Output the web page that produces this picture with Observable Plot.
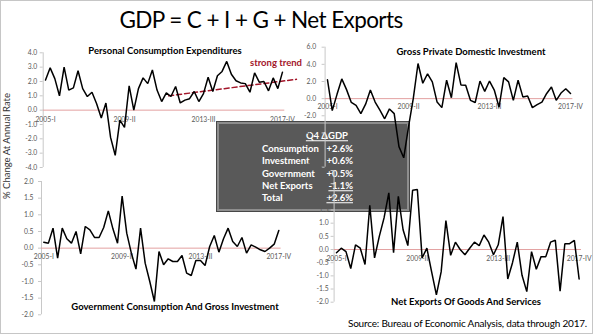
<!DOCTYPE html>
<html><head><meta charset="utf-8">
<script src="https://cdn.jsdelivr.net/npm/d3@7"></script>
<script src="https://cdn.jsdelivr.net/npm/@observablehq/plot@0.6"></script>
<style>
html,body{margin:0;padding:0;background:#fff;}
#wrap{position:relative;width:593px;height:334px;overflow:hidden;font-family:Lato,"Noto Sans",sans-serif;background:#fff;}
#frame{position:absolute;left:0;top:0;width:591px;height:332px;border:1px solid #c6c6c6;}
.layer{position:absolute;left:0;top:0;}
.lbl{position:absolute;white-space:nowrap;transform:translate(-50%,-50%);line-height:1;}
.ptitle{font-weight:bold;font-size:9.5px;color:#000;}
#box{position:absolute;left:217px;top:122px;width:192px;height:89px;box-sizing:border-box;background:#595959;border:2px solid #8e8e8e;outline:1px solid #474747;}
.bt{position:absolute;white-space:nowrap;color:#fff;font-weight:bold;font-size:9.5px;line-height:1;transform:translateY(-50%);}
</style></head>
<body>
<div id="wrap">
  <div id="frame"></div>
</div>
<script>
// ---- data ----
const years = [2005,2006,2007,2008,2009,2010,2011,2012,2013,2014,2015,2016,2017];
const qNames = ["I","II","III","IV"];
const quarters = [];
for (const y of years) for (const q of qNames) quarters.push(y + "-" + q);
const tickLabels = ["2005-I","2009-II","2013-III","2017-IV"];

const pce = [2.1,2.95,2.2,1.0,3.0,1.4,1.55,2.75,1.5,0.95,1.25,0.45,-0.55,0.5,-1.9,-3.15,-0.7,-1.2,1.7,0.0,1.5,2.25,1.85,2.8,1.4,0.6,1.2,0.95,1.65,0.5,0.7,0.8,1.3,0.6,1.15,2.3,1.3,2.4,2.7,3.4,2.5,2.05,1.9,1.85,1.25,2.6,1.95,2.0,1.35,2.25,1.5,2.65];
const gpdi = [2.2,-1.4,0.5,2.3,1.05,-0.45,-0.8,-1.75,-0.65,1.0,-0.4,-1.35,-2.35,-1.2,-1.75,-5.6,-6.9,-3.3,0,4.1,1.8,2.9,1.95,-0.4,-1.05,2.15,0.1,4.2,1.6,1.55,-0.2,-0.45,2.05,0.85,2.05,1.0,-1.0,2.45,1.95,-0.2,2.15,0.2,0.3,-1.05,-0.7,-0.4,0.6,1.35,-0.2,0.65,1.15,0.6];
const gov = [0.18,0.15,0.6,-0.3,0.6,0.28,0.15,0.5,-0.17,0.65,0.55,0.32,0.32,0.62,1.12,0.58,0.15,1.56,0.45,-0.15,-0.63,0.6,-0.45,-1.0,-1.6,-0.1,-0.5,-0.32,-0.4,-0.4,-0.22,-0.75,-0.82,-0.37,-0.37,-0.52,0.05,0.38,-0.12,0.28,0.6,0.2,0.05,0.32,-0.15,0.1,0.03,-0.05,-0.1,0.0,0.12,0.53];
const netExports = [-0.12,0.05,-0.08,-0.72,0.18,0.05,-0.57,1.68,-0.32,0.5,1.2,2.15,-0.12,2.02,0.75,0.15,2.25,2.28,-0.32,0.05,-0.85,-1.72,-0.85,1.1,-0.22,0.28,0,-0.2,0.05,0.28,0.15,0.55,0.28,-0.2,0.18,1.25,-1.12,-0.5,0.28,-0.98,-1.6,-0.08,-0.75,-0.27,-0.27,0.28,0.35,-1.58,0.22,0.22,0.35,-1.12];

const trendIndex = [26.5, 54];
const trendValue = [1.0, 2.15];

const pceTicks = [-4,-3,-2,-1,0,1,2,3,4];
const gpdiTicks = [-8,-4,-2,0,2,4,6];
const govTicks = [-2,-1.5,-1,-0.5,0,0.5,1,1.5,2];
const nxTicks = [-2,-1.5,-1,-0.5,0,0.5,1,1.5,2,2.5,3];

const boxHeader = "Q4 ΔGDP";
const boxLabels = ["Consumption","Investment","Government","Net Exports","Total"];
const boxValues = ["+2.6%","+0.6%","+0.5%","-1.1%","+2.6%"];

// ---- drawing ----
const W = 593, H = 334;
const wrap = document.getElementById("wrap");

function panel(o) {
  const data = o.series.map((v, i) => ({i, v}));
  const n = quarters.length;
  const chart = Plot.plot({
    width: W, height: H,
    marginLeft: o.left, marginRight: W - o.right, marginTop: o.top, marginBottom: H - o.bottom,
    x: {domain: [-0.5, n - 0.5], axis: null},
    y: {domain: o.yDomain, axis: null},
    style: {background: "transparent", fontFamily: "Lato, sans-serif", fontSize: "6.8px", overflow: "visible"},
    marks: [
      Plot.ruleX([-0.5], {stroke: "#c8c8c8"}),
      Plot.ruleY([0], {stroke: "#e3a1a1", strokeWidth: 1}),
      Plot.axisY(o.ticks, {anchor: "left", tickSize: 3, tickPadding: o.pad, tickFormat: d => d.toFixed(1), color: "#595959", stroke: "#c8c8c8", fontSize: 6.8, label: null}),
      Plot.text(tickLabels, {x: d => quarters.indexOf(d), y: () => 0, text: d => d, dy: o.labelDy, fontSize: 6.8, fill: "#595959"}),
      ...(o.extra || []),
      Plot.line(data, {x: "i", y: "v", stroke: "#000", strokeWidth: 1.5, strokeLinejoin: "miter"})
    ]
  });
  chart.classList.add("layer");
  chart.style.zIndex = o.z;
  wrap.appendChild(chart);
}

const trend = trendIndex.map((x, k) => ({x, y: trendValue[k]}));

panel({series: pce, yDomain: [-4, 4], ticks: pceTicks, left: 42.7, right: 284.3, top: 52.3, bottom: 167, pad: 3, labelDy: 9.3, z: 1,
  extra: [Plot.line(trend, {x: "x", y: "y", stroke: "#a3162a", strokeWidth: 1.5, strokeDasharray: "5,3"})]});
panel({series: gov, yDomain: [-2, 2], ticks: govTicks, left: 41, right: 280.6, top: 181, bottom: 314.3, pad: 5, labelDy: 9, z: 1});
panel({series: gpdi, yDomain: [-8, 6], ticks: gpdiTicks, left: 324.6, right: 572.4, top: 46.7, bottom: 166.7, pad: 6, labelDy: 7.7, z: 3});
panel({series: netExports, yDomain: [-2, 3], ticks: nxTicks, left: 333.6, right: 581, top: 170, bottom: 301.7, pad: 2.5, labelDy: 9.3, z: 3});

// box
const box = document.createElement("div");
box.id = "box"; box.style.zIndex = 2;
wrap.appendChild(box);
function bt(text, x, y, align, underline) {
  const d = document.createElement("div");
  d.className = "bt";
  d.textContent = text;
  if (align === "right") { d.style.right = (W - x) + "px"; } else { d.style.left = x + "px"; }
  d.style.top = y + "px";
  if (underline) d.style.textDecoration = "underline";
  d.style.zIndex = 2;
  wrap.appendChild(d);
}
bt(boxHeader, 348, 136, "right", true);
boxLabels.forEach((l, k) => {
  const y = 149 + k * 12.3;
  bt(l, 262, y, "left", false);
  bt(boxValues[k], 353, y, "right", k >= 3);
});

function lbl(text, x, y, cls, extraStyle) {
  const d = document.createElement("div");
  d.className = "lbl " + (cls || "");
  d.textContent = text;
  d.style.left = x + "px"; d.style.top = y + "px";
  d.style.zIndex = 5;
  Object.assign(d.style, extraStyle || {});
  wrap.appendChild(d);
  return d;
}
lbl("GDP = C + I + G + Net Exports", 261, 20, "", {fontSize: "22.5px", letterSpacing: "-0.6px", color: "#000"});
lbl("Personal Consumption Expenditures", 165, 51, "ptitle");
lbl("Gross Private Domestic Investment", 471, 52, "ptitle");
lbl("Government Consumption And Gross Investment", 175, 307, "ptitle");
lbl("Net Exports Of Goods And Services", 466, 302, "ptitle");
lbl("strong trend", 276, 63, "", {fontSize: "9.5px", fontWeight: "bold", color: "#a3162a"});
lbl("% Change At Annual Rate", 7, 146, "", {fontSize: "9.5px", color: "#333", transform: "translate(-50%,-50%) rotate(-90deg)"});
lbl("Source: Bureau of Economic Analysis, data through 2017.", 0, 323, "", {fontSize: "10px", letterSpacing: "-0.2px", color: "#000", transform: "translateY(-50%)", left: "auto", right: (W - 587) + "px"});
</script>
</body></html>
